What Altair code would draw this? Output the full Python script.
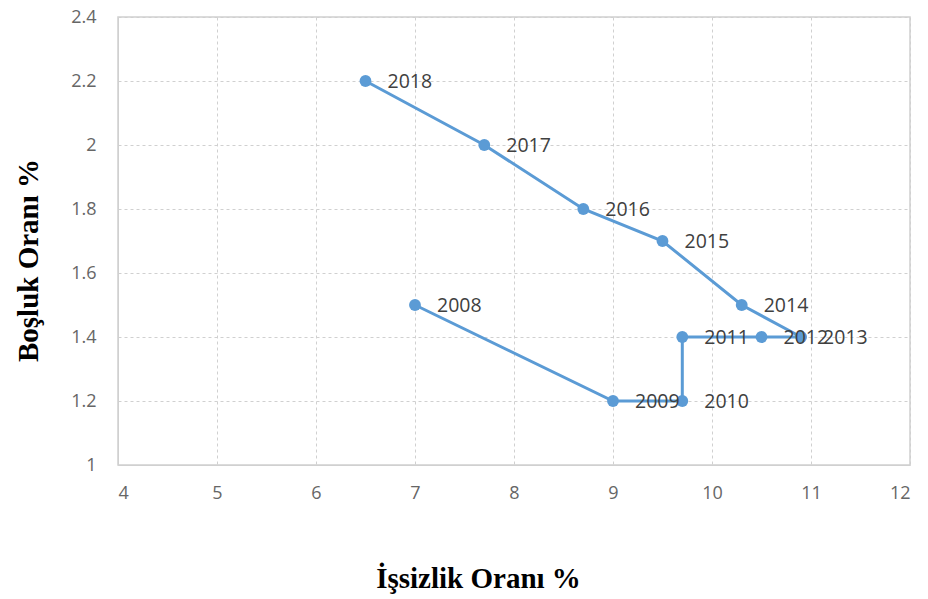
import altair as alt
import pandas as pd

years = [2008, 2009, 2010, 2011, 2012, 2013, 2014, 2015, 2016, 2017, 2018]
unemployment = [7.0, 9.0, 9.7, 9.7, 10.5, 10.9, 10.3, 9.5, 8.7, 7.7, 6.5]
vacancy = [1.5, 1.2, 1.2, 1.4, 1.4, 1.4, 1.5, 1.7, 1.8, 2.0, 2.2]

df = pd.DataFrame({"year": years, "x": unemployment, "y": vacancy})
df["label"] = df["year"].astype(str)

color = "#5B9BD5"

common = dict(grid=True, gridDash=[3, 3], gridColor="#D0D0D0", domainColor="#D0D0D0",
              ticks=False, labelFont="Open Sans", labelFontSize=18, labelColor="#666666",
              titleFont="Liberation Serif", titleFontSize=29, titleFontWeight="bold",
              titleColor="#000000", titleBaseline="middle", format="~g")

x_enc = alt.X("x:Q", scale=alt.Scale(domain=[4, 12], nice=False),
              axis=alt.Axis(title="İşsizlik Oranı %", values=list(range(4, 13)),
                            labelPadding=19, titleX=360, titleY=113, **common))
y_enc = alt.Y("y:Q", scale=alt.Scale(domain=[1, 2.4], nice=False),
              axis=alt.Axis(title="Boşluk Oranı %", values=[1, 1.2, 1.4, 1.6, 1.8, 2, 2.2, 2.4],
                            labelPadding=22, titleX=-90, titleY=243, **common))

base = alt.Chart(df)
line = base.mark_line(color=color, strokeWidth=3).encode(x=x_enc, y=y_enc, order="year:O")
pts = base.mark_point(color=color, filled=True, opacity=1, size=140).encode(x=x_enc, y=y_enc)
txt = base.mark_text(align="left", baseline="middle", dx=22, dy=1, fontSize=19.5,
                     font="Open Sans", color="#404040").encode(x=x_enc, y=y_enc, text="label")

chart = alt.layer(line, pts, txt).properties(
    width=792, height=448,
    autosize=alt.AutoSizeParams(type="none"),
    padding={"left": 118, "top": 17, "right": 18, "bottom": 134},
    background="white",
).configure_view(stroke="#D0D0D0", strokeWidth=1.5)

chart.save("out.html", embed_options={"renderer": "svg", "actions": False})
